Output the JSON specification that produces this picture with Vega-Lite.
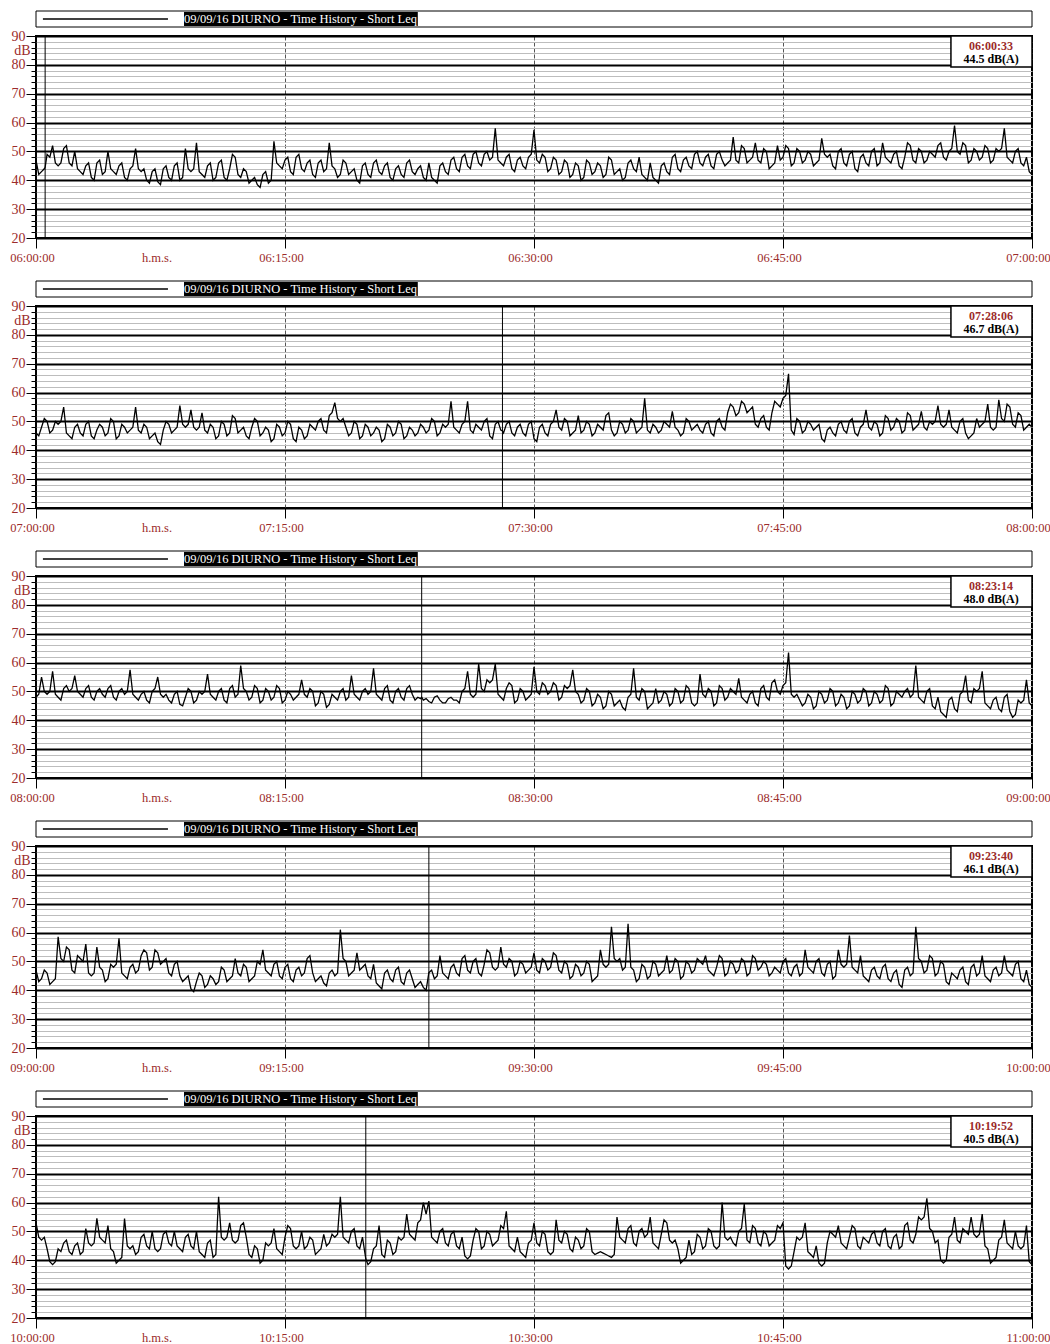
{
"$schema":"https://vega.github.io/schema/vega-lite/v6.json",
"background":"white",
"padding":{"left":8,"top":10,"right":0,"bottom":0},
"spacing":9,
"bounds":"flush",
"config":{"view":{"stroke":"black","strokeWidth":2},"axis":{"labelFont":"Liberation Serif","labelColor":"#9c2b2b","domain":false,"labelOverlap":false,"labelFlush":false}},
"datasets":{
"lg":[{"label":"09/09/16 DIURNO - Time History - Short Leq"}],
"cur":[{"p":1,"s":33,"t":"06:00:33","val":"44.5 dB(A)"},{"p":2,"s":1686,"t":"07:28:06","val":"46.7 dB(A)"},{"p":3,"s":1394,"t":"08:23:14","val":"48.0 dB(A)"},{"p":4,"s":1420,"t":"09:23:40","val":"46.1 dB(A)"},{"p":5,"s":1192,"t":"10:19:52","val":"40.5 dB(A)"}],
"d1":[{"s":0,"v":47},{"s":20,"v":43},{"s":33,"v":44.5},{"s":40,"v":49},{"s":60,"v":52},{"s":80,"v":45},{"s":100,"v":51},{"s":120,"v":46},{"s":140,"v":50},{"s":160,"v":43},{"s":180,"v":45},{"s":200,"v":41},{"s":220,"v":46},{"s":240,"v":42},{"s":260,"v":50},{"s":280,"v":43},{"s":300,"v":45},{"s":320,"v":41},{"s":340,"v":44},{"s":360,"v":51},{"s":380,"v":43},{"s":400,"v":40},{"s":420,"v":43},{"s":440,"v":39.5},{"s":460,"v":44},{"s":480,"v":41},{"s":500,"v":45},{"s":520,"v":40},{"s":540,"v":51},{"s":560,"v":43},{"s":580,"v":53},{"s":600,"v":42},{"s":620,"v":45},{"s":640,"v":40},{"s":660,"v":46},{"s":680,"v":41},{"s":700,"v":44},{"s":720,"v":48},{"s":740,"v":41},{"s":760,"v":43},{"s":780,"v":40},{"s":800,"v":38.5},{"s":820,"v":42},{"s":840,"v":39},{"s":860,"v":53.5},{"s":880,"v":45},{"s":900,"v":47},{"s":920,"v":43},{"s":940,"v":48},{"s":960,"v":44},{"s":980,"v":46},{"s":1000,"v":42},{"s":1020,"v":46},{"s":1040,"v":43},{"s":1060,"v":53},{"s":1080,"v":44},{"s":1100,"v":42},{"s":1120,"v":46},{"s":1140,"v":43},{"s":1160,"v":40},{"s":1180,"v":45},{"s":1200,"v":42},{"s":1220,"v":46},{"s":1240,"v":43},{"s":1260,"v":45},{"s":1280,"v":41},{"s":1300,"v":44},{"s":1320,"v":42},{"s":1340,"v":46},{"s":1360,"v":43},{"s":1380,"v":44},{"s":1400,"v":41},{"s":1420,"v":46},{"s":1440,"v":40},{"s":1460,"v":45},{"s":1480,"v":43},{"s":1500,"v":47},{"s":1520,"v":44},{"s":1540,"v":48},{"s":1560,"v":45},{"s":1580,"v":49},{"s":1600,"v":46},{"s":1620,"v":49},{"s":1640,"v":47},{"s":1660,"v":58},{"s":1680,"v":46},{"s":1700,"v":48},{"s":1720,"v":44},{"s":1740,"v":47},{"s":1760,"v":45},{"s":1780,"v":48},{"s":1800,"v":57.5},{"s":1820,"v":46},{"s":1840,"v":48},{"s":1860,"v":44},{"s":1880,"v":47},{"s":1900,"v":43},{"s":1920,"v":46},{"s":1940,"v":42},{"s":1960,"v":45},{"s":1980,"v":41},{"s":2000,"v":46},{"s":2020,"v":43},{"s":2040,"v":45},{"s":2060,"v":42},{"s":2080,"v":47},{"s":2100,"v":43},{"s":2120,"v":40},{"s":2140,"v":46},{"s":2160,"v":44},{"s":2180,"v":48},{"s":2200,"v":41},{"s":2220,"v":46},{"s":2240,"v":40},{"s":2260,"v":45},{"s":2280,"v":43},{"s":2300,"v":48},{"s":2320,"v":44},{"s":2340,"v":47},{"s":2360,"v":45},{"s":2380,"v":49},{"s":2400,"v":46},{"s":2420,"v":48},{"s":2440,"v":45},{"s":2460,"v":49},{"s":2480,"v":47},{"s":2500,"v":46},{"s":2520,"v":55},{"s":2540,"v":46},{"s":2560,"v":51},{"s":2580,"v":47},{"s":2600,"v":53},{"s":2620,"v":46},{"s":2640,"v":50},{"s":2660,"v":45},{"s":2680,"v":52},{"s":2700,"v":48},{"s":2720,"v":51},{"s":2740,"v":46},{"s":2760,"v":50},{"s":2780,"v":47},{"s":2800,"v":49},{"s":2820,"v":46},{"s":2840,"v":54.5},{"s":2860,"v":48},{"s":2880,"v":45},{"s":2900,"v":50},{"s":2920,"v":46},{"s":2940,"v":49},{"s":2960,"v":44},{"s":2980,"v":48},{"s":3000,"v":46},{"s":3020,"v":50},{"s":3040,"v":45},{"s":3060,"v":53},{"s":3080,"v":47},{"s":3100,"v":49},{"s":3120,"v":45},{"s":3140,"v":48},{"s":3160,"v":52},{"s":3180,"v":46},{"s":3200,"v":50},{"s":3220,"v":47},{"s":3240,"v":49},{"s":3260,"v":52},{"s":3280,"v":48},{"s":3300,"v":50},{"s":3320,"v":59},{"s":3340,"v":49},{"s":3360,"v":52},{"s":3380,"v":47},{"s":3400,"v":50},{"s":3420,"v":48},{"s":3440,"v":51},{"s":3460,"v":47},{"s":3480,"v":50},{"s":3500,"v":58},{"s":3520,"v":47},{"s":3540,"v":50},{"s":3560,"v":46},{"s":3580,"v":48},{"s":3600,"v":42},
{"s":10,"v":42},{"s":30,"v":44},{"s":50,"v":48},{"s":70,"v":46},{"s":90,"v":46},{"s":110,"v":52},{"s":130,"v":45},{"s":150,"v":44},{"s":170,"v":42},{"s":190,"v":46},{"s":210,"v":40},{"s":230,"v":47},{"s":250,"v":43},{"s":270,"v":44},{"s":290,"v":42},{"s":310,"v":46},{"s":330,"v":40},{"s":350,"v":45},{"s":370,"v":44},{"s":390,"v":44},{"s":410,"v":39},{"s":430,"v":44},{"s":450,"v":38.5},{"s":470,"v":45},{"s":490,"v":40},{"s":510,"v":46},{"s":530,"v":41},{"s":550,"v":44},{"s":570,"v":44},{"s":590,"v":43},{"s":610,"v":41},{"s":630,"v":46},{"s":650,"v":41},{"s":670,"v":47},{"s":690,"v":40},{"s":710,"v":49},{"s":730,"v":42},{"s":750,"v":44},{"s":770,"v":39},{"s":790,"v":41},{"s":810,"v":37.5},{"s":830,"v":43},{"s":850,"v":40},{"s":870,"v":46},{"s":890,"v":44},{"s":910,"v":48},{"s":930,"v":42},{"s":950,"v":49},{"s":970,"v":43},{"s":990,"v":47},{"s":1010,"v":41},{"s":1030,"v":47},{"s":1050,"v":44},{"s":1070,"v":45},{"s":1090,"v":41},{"s":1110,"v":47},{"s":1130,"v":42},{"s":1150,"v":44},{"s":1170,"v":39},{"s":1190,"v":46},{"s":1210,"v":41},{"s":1230,"v":47},{"s":1250,"v":42},{"s":1270,"v":46},{"s":1290,"v":40},{"s":1310,"v":45},{"s":1330,"v":41},{"s":1350,"v":47},{"s":1370,"v":42},{"s":1390,"v":45},{"s":1410,"v":40},{"s":1430,"v":41},{"s":1450,"v":39},{"s":1470,"v":46},{"s":1490,"v":42},{"s":1510,"v":48},{"s":1530,"v":43},{"s":1550,"v":49},{"s":1570,"v":44},{"s":1590,"v":50},{"s":1610,"v":45},{"s":1630,"v":50},{"s":1650,"v":48},{"s":1670,"v":47},{"s":1690,"v":45},{"s":1710,"v":49},{"s":1730,"v":43},{"s":1750,"v":48},{"s":1770,"v":44},{"s":1790,"v":49},{"s":1810,"v":47},{"s":1830,"v":49},{"s":1850,"v":43},{"s":1870,"v":48},{"s":1890,"v":42},{"s":1910,"v":47},{"s":1930,"v":41},{"s":1950,"v":46},{"s":1970,"v":40},{"s":1990,"v":47},{"s":2010,"v":42},{"s":2030,"v":46},{"s":2050,"v":41},{"s":2070,"v":48},{"s":2090,"v":42},{"s":2110,"v":44},{"s":2130,"v":41},{"s":2150,"v":47},{"s":2170,"v":43},{"s":2190,"v":42},{"s":2210,"v":40},{"s":2230,"v":41},{"s":2250,"v":39},{"s":2270,"v":46},{"s":2290,"v":42},{"s":2310,"v":49},{"s":2330,"v":43},{"s":2350,"v":48},{"s":2370,"v":44},{"s":2390,"v":50},{"s":2410,"v":45},{"s":2430,"v":49},{"s":2450,"v":44},{"s":2470,"v":50},{"s":2490,"v":45},{"s":2510,"v":47},{"s":2530,"v":47},{"s":2550,"v":52},{"s":2570,"v":46},{"s":2590,"v":48},{"s":2610,"v":47},{"s":2630,"v":51},{"s":2650,"v":44},{"s":2670,"v":46},{"s":2690,"v":47},{"s":2710,"v":52},{"s":2730,"v":45},{"s":2750,"v":51},{"s":2770,"v":46},{"s":2790,"v":50},{"s":2810,"v":45},{"s":2830,"v":47},{"s":2850,"v":49},{"s":2870,"v":49},{"s":2890,"v":44},{"s":2910,"v":51},{"s":2930,"v":45},{"s":2950,"v":50},{"s":2970,"v":43},{"s":2990,"v":49},{"s":3010,"v":45},{"s":3030,"v":51},{"s":3050,"v":46},{"s":3070,"v":48},{"s":3090,"v":46},{"s":3110,"v":50},{"s":3130,"v":44},{"s":3150,"v":53},{"s":3170,"v":47},{"s":3190,"v":51},{"s":3210,"v":46},{"s":3230,"v":50},{"s":3250,"v":48},{"s":3270,"v":53},{"s":3290,"v":47},{"s":3310,"v":51},{"s":3330,"v":50},{"s":3350,"v":53},{"s":3370,"v":46},{"s":3390,"v":51},{"s":3410,"v":47},{"s":3430,"v":52},{"s":3450,"v":46},{"s":3470,"v":51},{"s":3490,"v":51},{"s":3510,"v":48},{"s":3530,"v":46},{"s":3550,"v":51},{"s":3570,"v":45},{"s":3590,"v":43}],
"d2":[{"s":0,"v":46},{"s":20,"v":48},{"s":40,"v":50},{"s":60,"v":47},{"s":80,"v":49},{"s":100,"v":55},{"s":120,"v":45},{"s":140,"v":48},{"s":160,"v":46},{"s":180,"v":49},{"s":200,"v":45},{"s":220,"v":47},{"s":240,"v":48},{"s":260,"v":46},{"s":280,"v":50},{"s":300,"v":45},{"s":320,"v":48},{"s":340,"v":47},{"s":360,"v":55},{"s":380,"v":46},{"s":400,"v":48},{"s":420,"v":45},{"s":440,"v":43},{"s":460,"v":47},{"s":480,"v":49},{"s":500,"v":47},{"s":520,"v":55.5},{"s":540,"v":48},{"s":560,"v":54},{"s":580,"v":47},{"s":600,"v":53},{"s":620,"v":46},{"s":640,"v":48},{"s":660,"v":45},{"s":680,"v":49},{"s":700,"v":46},{"s":720,"v":51},{"s":740,"v":47},{"s":760,"v":45},{"s":780,"v":48},{"s":800,"v":50},{"s":820,"v":46},{"s":840,"v":47},{"s":860,"v":44},{"s":880,"v":48},{"s":900,"v":46},{"s":920,"v":49},{"s":940,"v":43},{"s":960,"v":47},{"s":980,"v":45},{"s":1000,"v":48},{"s":1020,"v":50},{"s":1040,"v":47},{"s":1060,"v":52},{"s":1080,"v":56.5},{"s":1100,"v":50},{"s":1120,"v":48},{"s":1140,"v":46},{"s":1160,"v":49},{"s":1180,"v":45},{"s":1200,"v":48},{"s":1220,"v":46},{"s":1240,"v":47},{"s":1260,"v":44},{"s":1280,"v":48},{"s":1300,"v":46},{"s":1320,"v":49},{"s":1340,"v":45},{"s":1360,"v":47},{"s":1380,"v":46},{"s":1400,"v":48},{"s":1420,"v":47},{"s":1440,"v":50},{"s":1460,"v":46},{"s":1480,"v":48},{"s":1500,"v":57},{"s":1520,"v":47},{"s":1540,"v":49},{"s":1560,"v":57},{"s":1580,"v":46},{"s":1600,"v":48},{"s":1620,"v":50},{"s":1640,"v":45},{"s":1660,"v":49},{"s":1680,"v":47},{"s":1686,"v":46.7},{"s":1700,"v":49},{"s":1720,"v":46},{"s":1740,"v":48},{"s":1760,"v":46},{"s":1780,"v":49},{"s":1800,"v":44},{"s":1820,"v":48},{"s":1840,"v":46},{"s":1860,"v":49},{"s":1880,"v":54},{"s":1900,"v":47},{"s":1920,"v":50},{"s":1940,"v":46},{"s":1960,"v":52},{"s":1980,"v":47},{"s":2000,"v":49},{"s":2020,"v":46},{"s":2040,"v":48},{"s":2060,"v":52},{"s":2080,"v":47},{"s":2100,"v":46},{"s":2120,"v":49},{"s":2140,"v":47},{"s":2160,"v":50},{"s":2180,"v":47},{"s":2200,"v":58},{"s":2220,"v":46},{"s":2240,"v":48},{"s":2260,"v":47},{"s":2280,"v":49},{"s":2300,"v":53.5},{"s":2320,"v":47},{"s":2340,"v":46},{"s":2360,"v":50},{"s":2380,"v":48},{"s":2400,"v":47},{"s":2420,"v":49},{"s":2440,"v":46},{"s":2460,"v":50},{"s":2480,"v":48},{"s":2500,"v":53},{"s":2520,"v":55},{"s":2540,"v":53},{"s":2560,"v":56},{"s":2580,"v":54},{"s":2600,"v":49},{"s":2620,"v":51},{"s":2640,"v":48},{"s":2660,"v":53},{"s":2680,"v":56},{"s":2700,"v":58},{"s":2720,"v":66.5},{"s":2740,"v":45.5},{"s":2760,"v":50},{"s":2780,"v":47},{"s":2800,"v":49},{"s":2820,"v":48},{"s":2840,"v":44},{"s":2860,"v":47},{"s":2880,"v":46},{"s":2900,"v":49},{"s":2920,"v":47},{"s":2940,"v":50},{"s":2960,"v":46},{"s":2980,"v":48},{"s":3000,"v":54},{"s":3020,"v":47},{"s":3040,"v":49},{"s":3060,"v":46},{"s":3080,"v":51},{"s":3100,"v":48},{"s":3120,"v":50},{"s":3140,"v":47},{"s":3160,"v":52},{"s":3180,"v":48},{"s":3200,"v":53.5},{"s":3220,"v":47},{"s":3240,"v":49},{"s":3260,"v":55.5},{"s":3280,"v":48},{"s":3300,"v":54},{"s":3320,"v":47},{"s":3340,"v":50},{"s":3360,"v":46},{"s":3380,"v":45},{"s":3400,"v":51},{"s":3420,"v":49},{"s":3440,"v":56},{"s":3460,"v":47},{"s":3480,"v":57.5},{"s":3500,"v":50},{"s":3520,"v":55},{"s":3540,"v":48},{"s":3560,"v":52},{"s":3580,"v":48},{"s":3600,"v":48},
{"s":10,"v":45},{"s":30,"v":51},{"s":50,"v":46},{"s":70,"v":50},{"s":90,"v":50},{"s":110,"v":46},{"s":130,"v":44},{"s":150,"v":49},{"s":170,"v":45},{"s":190,"v":50},{"s":210,"v":44},{"s":230,"v":49},{"s":250,"v":45},{"s":270,"v":51},{"s":290,"v":44},{"s":310,"v":49},{"s":330,"v":46},{"s":350,"v":48},{"s":370,"v":47},{"s":390,"v":49},{"s":410,"v":44},{"s":430,"v":46},{"s":450,"v":42},{"s":470,"v":50},{"s":490,"v":46},{"s":510,"v":48},{"s":530,"v":49},{"s":550,"v":49},{"s":570,"v":48},{"s":590,"v":48},{"s":610,"v":47},{"s":630,"v":49},{"s":650,"v":44},{"s":670,"v":50},{"s":690,"v":45},{"s":710,"v":52},{"s":730,"v":46},{"s":750,"v":48},{"s":770,"v":44},{"s":790,"v":51},{"s":810,"v":45},{"s":830,"v":48},{"s":850,"v":43},{"s":870,"v":49},{"s":890,"v":45},{"s":910,"v":50},{"s":930,"v":44},{"s":950,"v":48},{"s":970,"v":44},{"s":990,"v":49},{"s":1010,"v":47},{"s":1030,"v":51},{"s":1050,"v":46},{"s":1070,"v":53},{"s":1090,"v":51},{"s":1110,"v":51},{"s":1130,"v":45},{"s":1150,"v":50},{"s":1170,"v":44},{"s":1190,"v":49},{"s":1210,"v":45},{"s":1230,"v":48},{"s":1250,"v":43},{"s":1270,"v":49},{"s":1290,"v":45},{"s":1310,"v":50},{"s":1330,"v":44},{"s":1350,"v":48},{"s":1370,"v":45},{"s":1390,"v":49},{"s":1410,"v":46},{"s":1430,"v":51},{"s":1450,"v":45},{"s":1470,"v":49},{"s":1490,"v":49},{"s":1510,"v":48},{"s":1530,"v":46},{"s":1550,"v":50},{"s":1570,"v":47},{"s":1590,"v":49},{"s":1610,"v":47},{"s":1630,"v":51},{"s":1650,"v":44},{"s":1670,"v":50},{"s":1690,"v":46},{"s":1710,"v":50},{"s":1730,"v":45},{"s":1750,"v":49},{"s":1770,"v":45},{"s":1790,"v":50},{"s":1810,"v":43},{"s":1830,"v":49},{"s":1850,"v":45},{"s":1870,"v":50},{"s":1890,"v":48},{"s":1910,"v":51},{"s":1930,"v":45},{"s":1950,"v":47},{"s":1970,"v":46},{"s":1990,"v":50},{"s":2010,"v":45},{"s":2030,"v":49},{"s":2050,"v":47},{"s":2070,"v":53},{"s":2090,"v":45},{"s":2110,"v":50},{"s":2130,"v":46},{"s":2150,"v":51},{"s":2170,"v":46},{"s":2190,"v":48},{"s":2210,"v":47},{"s":2230,"v":49},{"s":2250,"v":46},{"s":2270,"v":50},{"s":2290,"v":48},{"s":2310,"v":48},{"s":2330,"v":45},{"s":2350,"v":51},{"s":2370,"v":47},{"s":2390,"v":49},{"s":2410,"v":46},{"s":2430,"v":50},{"s":2450,"v":45},{"s":2470,"v":51},{"s":2490,"v":47},{"s":2510,"v":56},{"s":2530,"v":52},{"s":2550,"v":57},{"s":2570,"v":53},{"s":2590,"v":55},{"s":2610,"v":48},{"s":2630,"v":52},{"s":2650,"v":47},{"s":2670,"v":57},{"s":2690,"v":55},{"s":2710,"v":59},{"s":2730,"v":47},{"s":2750,"v":51},{"s":2770,"v":46},{"s":2790,"v":50},{"s":2810,"v":47},{"s":2830,"v":49},{"s":2850,"v":43},{"s":2870,"v":48},{"s":2890,"v":45},{"s":2910,"v":50},{"s":2930,"v":46},{"s":2950,"v":51},{"s":2970,"v":45},{"s":2990,"v":49},{"s":3010,"v":48},{"s":3030,"v":50},{"s":3050,"v":45},{"s":3070,"v":52},{"s":3090,"v":47},{"s":3110,"v":51},{"s":3130,"v":46},{"s":3150,"v":53},{"s":3170,"v":47},{"s":3190,"v":49},{"s":3210,"v":48},{"s":3230,"v":50},{"s":3250,"v":50},{"s":3270,"v":49},{"s":3290,"v":49},{"s":3310,"v":48},{"s":3330,"v":46},{"s":3350,"v":51},{"s":3370,"v":44},{"s":3390,"v":46},{"s":3410,"v":48},{"s":3430,"v":50},{"s":3450,"v":48},{"s":3470,"v":48},{"s":3490,"v":51},{"s":3510,"v":56},{"s":3530,"v":49},{"s":3550,"v":53},{"s":3570,"v":47},{"s":3590,"v":49}],
"d3":[{"s":0,"v":48},{"s":20,"v":55},{"s":40,"v":49},{"s":60,"v":57},{"s":80,"v":48},{"s":100,"v":51},{"s":120,"v":50},{"s":140,"v":55.5},{"s":160,"v":49},{"s":180,"v":51},{"s":200,"v":48},{"s":220,"v":50},{"s":240,"v":49},{"s":260,"v":51},{"s":280,"v":48},{"s":300,"v":50},{"s":320,"v":49},{"s":340,"v":57.5},{"s":360,"v":48},{"s":380,"v":49},{"s":400,"v":47},{"s":420,"v":50},{"s":440,"v":55},{"s":460,"v":48},{"s":480,"v":47},{"s":500,"v":49},{"s":520,"v":45.5},{"s":540,"v":48},{"s":560,"v":50},{"s":580,"v":47},{"s":600,"v":49},{"s":620,"v":56},{"s":640,"v":48},{"s":660,"v":50},{"s":680,"v":47},{"s":700,"v":51},{"s":720,"v":48},{"s":740,"v":59},{"s":760,"v":50},{"s":780,"v":48},{"s":800,"v":51},{"s":820,"v":47},{"s":840,"v":50},{"s":860,"v":48},{"s":880,"v":51},{"s":900,"v":47},{"s":920,"v":49},{"s":940,"v":48},{"s":960,"v":54},{"s":980,"v":48},{"s":1000,"v":50},{"s":1020,"v":46},{"s":1040,"v":49},{"s":1060,"v":45.5},{"s":1080,"v":48},{"s":1100,"v":50},{"s":1120,"v":47},{"s":1140,"v":55.5},{"s":1160,"v":48},{"s":1180,"v":50},{"s":1200,"v":49},{"s":1220,"v":58},{"s":1240,"v":48},{"s":1260,"v":51},{"s":1280,"v":47},{"s":1300,"v":50},{"s":1320,"v":48},{"s":1340,"v":51},{"s":1360,"v":49},{"s":1380,"v":48},{"s":1394,"v":48},{"s":1400,"v":47},{"s":1420,"v":46.5},{"s":1440,"v":48},{"s":1460,"v":47},{"s":1480,"v":46},{"s":1500,"v":48},{"s":1520,"v":47},{"s":1540,"v":50},{"s":1560,"v":57},{"s":1580,"v":48},{"s":1600,"v":59.5},{"s":1620,"v":50},{"s":1640,"v":53},{"s":1660,"v":59.5},{"s":1680,"v":48},{"s":1700,"v":51},{"s":1720,"v":52},{"s":1740,"v":47},{"s":1760,"v":50},{"s":1780,"v":48},{"s":1800,"v":58.5},{"s":1820,"v":49},{"s":1840,"v":52},{"s":1860,"v":50},{"s":1880,"v":52},{"s":1900,"v":48},{"s":1920,"v":51},{"s":1940,"v":57.5},{"s":1960,"v":49},{"s":1980,"v":47},{"s":2000,"v":50},{"s":2020,"v":46},{"s":2040,"v":48},{"s":2060,"v":45},{"s":2080,"v":49},{"s":2100,"v":46},{"s":2120,"v":44.5},{"s":2140,"v":48},{"s":2160,"v":58},{"s":2180,"v":47},{"s":2200,"v":50},{"s":2220,"v":45},{"s":2240,"v":51},{"s":2260,"v":47},{"s":2280,"v":49},{"s":2300,"v":46},{"s":2320,"v":50},{"s":2340,"v":47},{"s":2360,"v":51},{"s":2380,"v":45},{"s":2400,"v":56},{"s":2420,"v":48},{"s":2440,"v":50},{"s":2460,"v":46},{"s":2480,"v":51},{"s":2500,"v":48},{"s":2520,"v":50},{"s":2540,"v":54.5},{"s":2560,"v":47},{"s":2580,"v":49},{"s":2600,"v":46},{"s":2620,"v":51},{"s":2640,"v":48},{"s":2660,"v":53},{"s":2680,"v":50},{"s":2700,"v":52},{"s":2720,"v":63.5},{"s":2740,"v":48},{"s":2760,"v":47},{"s":2780,"v":46},{"s":2800,"v":48},{"s":2820,"v":45},{"s":2840,"v":49},{"s":2860,"v":47},{"s":2880,"v":50},{"s":2900,"v":46},{"s":2920,"v":48},{"s":2940,"v":45},{"s":2960,"v":49},{"s":2980,"v":47},{"s":3000,"v":50},{"s":3020,"v":46},{"s":3040,"v":49},{"s":3060,"v":47},{"s":3080,"v":51},{"s":3100,"v":46},{"s":3120,"v":49},{"s":3140,"v":50},{"s":3160,"v":48},{"s":3180,"v":59},{"s":3200,"v":47},{"s":3220,"v":50},{"s":3240,"v":45},{"s":3260,"v":48},{"s":3280,"v":42},{"s":3300,"v":47},{"s":3320,"v":44},{"s":3340,"v":49},{"s":3360,"v":55.5},{"s":3380,"v":46},{"s":3400,"v":50},{"s":3420,"v":57},{"s":3440,"v":45},{"s":3460,"v":47},{"s":3480,"v":44},{"s":3500,"v":48},{"s":3520,"v":43},{"s":3540,"v":42},{"s":3560,"v":46},{"s":3580,"v":54},{"s":3600,"v":45},
{"s":10,"v":49},{"s":30,"v":50},{"s":50,"v":50},{"s":70,"v":49},{"s":90,"v":47},{"s":110,"v":52},{"s":130,"v":51},{"s":150,"v":50},{"s":170,"v":48},{"s":190,"v":52},{"s":210,"v":47},{"s":230,"v":51},{"s":250,"v":48},{"s":270,"v":52},{"s":290,"v":47},{"s":310,"v":51},{"s":330,"v":50},{"s":350,"v":49},{"s":370,"v":47},{"s":390,"v":50},{"s":410,"v":46},{"s":430,"v":51},{"s":450,"v":49},{"s":470,"v":49},{"s":490,"v":46},{"s":510,"v":50},{"s":530,"v":45},{"s":550,"v":51},{"s":570,"v":46},{"s":590,"v":50},{"s":610,"v":50},{"s":630,"v":49},{"s":650,"v":47},{"s":670,"v":51},{"s":690,"v":46},{"s":710,"v":52},{"s":730,"v":49},{"s":750,"v":51},{"s":770,"v":47},{"s":790,"v":52},{"s":810,"v":46},{"s":830,"v":51},{"s":850,"v":47},{"s":870,"v":52},{"s":890,"v":46},{"s":910,"v":50},{"s":930,"v":47},{"s":950,"v":49},{"s":970,"v":49},{"s":990,"v":51},{"s":1010,"v":45},{"s":1030,"v":50},{"s":1050,"v":44.5},{"s":1070,"v":49},{"s":1090,"v":47},{"s":1110,"v":51},{"s":1130,"v":48},{"s":1150,"v":49},{"s":1170,"v":47},{"s":1190,"v":51},{"s":1210,"v":50},{"s":1230,"v":49},{"s":1250,"v":47},{"s":1270,"v":52},{"s":1290,"v":46},{"s":1310,"v":51},{"s":1330,"v":47},{"s":1350,"v":52},{"s":1370,"v":47},{"s":1390,"v":47.5},{"s":1410,"v":47.5},{"s":1430,"v":46},{"s":1450,"v":48.5},{"s":1470,"v":46},{"s":1490,"v":47.5},{"s":1510,"v":47},{"s":1530,"v":46},{"s":1550,"v":51},{"s":1570,"v":49},{"s":1590,"v":49},{"s":1610,"v":51},{"s":1630,"v":54},{"s":1650,"v":54},{"s":1670,"v":49},{"s":1690,"v":47},{"s":1710,"v":53},{"s":1730,"v":46},{"s":1750,"v":51},{"s":1770,"v":47},{"s":1790,"v":49},{"s":1810,"v":50},{"s":1830,"v":53},{"s":1850,"v":49},{"s":1870,"v":53},{"s":1890,"v":47},{"s":1910,"v":52},{"s":1930,"v":52},{"s":1950,"v":50},{"s":1970,"v":46},{"s":1990,"v":51},{"s":2010,"v":45},{"s":2030,"v":49},{"s":2050,"v":44},{"s":2070,"v":50},{"s":2090,"v":45},{"s":2110,"v":47},{"s":2130,"v":43.5},{"s":2150,"v":49},{"s":2170,"v":48},{"s":2190,"v":51},{"s":2210,"v":44},{"s":2230,"v":46},{"s":2250,"v":46},{"s":2270,"v":50},{"s":2290,"v":45},{"s":2310,"v":51},{"s":2330,"v":46},{"s":2350,"v":52},{"s":2370,"v":46},{"s":2390,"v":46},{"s":2410,"v":49},{"s":2430,"v":51},{"s":2450,"v":45},{"s":2470,"v":52},{"s":2490,"v":47},{"s":2510,"v":51},{"s":2530,"v":49},{"s":2550,"v":48},{"s":2570,"v":46},{"s":2590,"v":50},{"s":2610,"v":45},{"s":2630,"v":52},{"s":2650,"v":47},{"s":2670,"v":54},{"s":2690,"v":49},{"s":2710,"v":53},{"s":2730,"v":49},{"s":2750,"v":49},{"s":2770,"v":45},{"s":2790,"v":49},{"s":2810,"v":44},{"s":2830,"v":50},{"s":2850,"v":46},{"s":2870,"v":51},{"s":2890,"v":45},{"s":2910,"v":49},{"s":2930,"v":44},{"s":2950,"v":50},{"s":2970,"v":46},{"s":2990,"v":51},{"s":3010,"v":45},{"s":3030,"v":50},{"s":3050,"v":46},{"s":3070,"v":52},{"s":3090,"v":45},{"s":3110,"v":50},{"s":3130,"v":48},{"s":3150,"v":51},{"s":3170,"v":49},{"s":3190,"v":48},{"s":3210,"v":46},{"s":3230,"v":51},{"s":3250,"v":44},{"s":3270,"v":43},{"s":3290,"v":41},{"s":3310,"v":48},{"s":3330,"v":43},{"s":3350,"v":50},{"s":3370,"v":47},{"s":3390,"v":51},{"s":3410,"v":51},{"s":3430,"v":46},{"s":3450,"v":44},{"s":3470,"v":48},{"s":3490,"v":43},{"s":3510,"v":49},{"s":3530,"v":41},{"s":3550,"v":47},{"s":3570,"v":47},{"s":3590,"v":46}],
"d4":[{"s":0,"v":47},{"s":20,"v":44},{"s":40,"v":46},{"s":60,"v":43},{"s":80,"v":58.5},{"s":100,"v":50},{"s":120,"v":54},{"s":140,"v":46},{"s":160,"v":51},{"s":180,"v":56},{"s":200,"v":45},{"s":220,"v":55},{"s":240,"v":47},{"s":260,"v":44},{"s":280,"v":48},{"s":300,"v":58},{"s":320,"v":45},{"s":340,"v":48},{"s":360,"v":46},{"s":380,"v":52},{"s":400,"v":53},{"s":420,"v":48},{"s":440,"v":53},{"s":460,"v":50},{"s":480,"v":46},{"s":500,"v":49},{"s":520,"v":45},{"s":540,"v":44},{"s":560,"v":40.5},{"s":580,"v":43},{"s":600,"v":45},{"s":620,"v":42},{"s":640,"v":44},{"s":660,"v":43},{"s":680,"v":47},{"s":700,"v":44},{"s":720,"v":51},{"s":740,"v":45},{"s":760,"v":48},{"s":780,"v":44},{"s":800,"v":50},{"s":820,"v":54},{"s":840,"v":46},{"s":860,"v":49},{"s":880,"v":45},{"s":900,"v":48},{"s":920,"v":44},{"s":940,"v":47},{"s":960,"v":45},{"s":980,"v":51},{"s":1000,"v":46},{"s":1020,"v":44},{"s":1040,"v":42.5},{"s":1060,"v":46},{"s":1080,"v":45},{"s":1100,"v":61},{"s":1120,"v":50},{"s":1140,"v":46},{"s":1160,"v":53},{"s":1180,"v":48},{"s":1200,"v":45},{"s":1220,"v":49},{"s":1240,"v":41.5},{"s":1260,"v":46},{"s":1280,"v":44},{"s":1300,"v":47},{"s":1320,"v":43},{"s":1340,"v":46},{"s":1360,"v":44},{"s":1380,"v":42},{"s":1400,"v":41},{"s":1420,"v":46.1},{"s":1440,"v":44},{"s":1460,"v":52},{"s":1480,"v":45},{"s":1500,"v":48},{"s":1520,"v":46},{"s":1540,"v":51},{"s":1560,"v":47},{"s":1580,"v":50},{"s":1600,"v":46},{"s":1620,"v":49},{"s":1640,"v":53},{"s":1660,"v":47},{"s":1680,"v":55},{"s":1700,"v":48},{"s":1720,"v":50},{"s":1740,"v":46},{"s":1760,"v":49},{"s":1780,"v":47},{"s":1800,"v":53},{"s":1820,"v":46},{"s":1840,"v":50},{"s":1860,"v":48},{"s":1880,"v":52},{"s":1900,"v":46},{"s":1920,"v":49},{"s":1940,"v":45},{"s":1960,"v":48},{"s":1980,"v":46},{"s":2000,"v":49},{"s":2020,"v":44},{"s":2040,"v":54},{"s":2060,"v":48},{"s":2080,"v":62},{"s":2100,"v":50},{"s":2120,"v":47},{"s":2140,"v":63},{"s":2160,"v":47},{"s":2180,"v":44},{"s":2200,"v":48},{"s":2220,"v":45},{"s":2240,"v":49},{"s":2260,"v":46},{"s":2280,"v":52},{"s":2300,"v":47},{"s":2320,"v":50},{"s":2340,"v":45},{"s":2360,"v":49},{"s":2380,"v":47},{"s":2400,"v":50},{"s":2420,"v":52},{"s":2440,"v":46},{"s":2460,"v":48},{"s":2480,"v":51},{"s":2500,"v":46},{"s":2520,"v":49},{"s":2540,"v":47},{"s":2560,"v":50},{"s":2580,"v":46},{"s":2600,"v":51},{"s":2620,"v":48},{"s":2640,"v":49},{"s":2660,"v":46},{"s":2680,"v":47},{"s":2700,"v":50},{"s":2720,"v":46},{"s":2740,"v":48},{"s":2760,"v":45},{"s":2780,"v":54},{"s":2800,"v":47},{"s":2820,"v":50},{"s":2840,"v":46},{"s":2860,"v":49},{"s":2880,"v":44},{"s":2900,"v":54},{"s":2920,"v":48},{"s":2940,"v":59},{"s":2960,"v":47},{"s":2980,"v":52},{"s":3000,"v":44},{"s":3020,"v":47},{"s":3040,"v":45},{"s":3060,"v":48},{"s":3080,"v":44},{"s":3100,"v":46},{"s":3120,"v":42},{"s":3140,"v":47},{"s":3160,"v":45},{"s":3180,"v":62},{"s":3200,"v":50},{"s":3220,"v":47},{"s":3240,"v":51},{"s":3260,"v":46},{"s":3280,"v":49},{"s":3300,"v":42},{"s":3320,"v":45},{"s":3340,"v":47},{"s":3360,"v":43},{"s":3380,"v":48},{"s":3400,"v":45},{"s":3420,"v":52},{"s":3440,"v":44},{"s":3460,"v":47},{"s":3480,"v":45},{"s":3500,"v":52},{"s":3520,"v":46},{"s":3540,"v":49},{"s":3560,"v":44},{"s":3580,"v":47},{"s":3600,"v":41},
{"s":10,"v":43},{"s":30,"v":47},{"s":50,"v":42},{"s":70,"v":44},{"s":90,"v":51},{"s":110,"v":55},{"s":130,"v":47},{"s":150,"v":52},{"s":170,"v":50},{"s":190,"v":46},{"s":210,"v":46},{"s":230,"v":48},{"s":250,"v":43},{"s":270,"v":49},{"s":290,"v":49},{"s":310,"v":46},{"s":330,"v":44},{"s":350,"v":49},{"s":370,"v":47},{"s":390,"v":54},{"s":410,"v":47},{"s":430,"v":54},{"s":450,"v":49},{"s":470,"v":51},{"s":490,"v":45},{"s":510,"v":50},{"s":530,"v":43},{"s":550,"v":45},{"s":570,"v":39.5},{"s":590,"v":46},{"s":610,"v":41},{"s":630,"v":45},{"s":650,"v":42},{"s":670,"v":48},{"s":690,"v":43},{"s":710,"v":45},{"s":730,"v":46},{"s":750,"v":49},{"s":770,"v":43},{"s":790,"v":45},{"s":810,"v":49},{"s":830,"v":47},{"s":850,"v":45},{"s":870,"v":50},{"s":890,"v":44},{"s":910,"v":49},{"s":930,"v":43},{"s":950,"v":48},{"s":970,"v":46},{"s":990,"v":52},{"s":1010,"v":43},{"s":1030,"v":45},{"s":1050,"v":41.5},{"s":1070,"v":47},{"s":1090,"v":46},{"s":1110,"v":51},{"s":1130,"v":45},{"s":1150,"v":47},{"s":1170,"v":47},{"s":1190,"v":49},{"s":1210,"v":44},{"s":1230,"v":42.5},{"s":1250,"v":40.5},{"s":1270,"v":47},{"s":1290,"v":43},{"s":1310,"v":48},{"s":1330,"v":42},{"s":1350,"v":47},{"s":1370,"v":41},{"s":1390,"v":43},{"s":1410,"v":40},{"s":1430,"v":47},{"s":1450,"v":45},{"s":1470,"v":46},{"s":1490,"v":44},{"s":1510,"v":49},{"s":1530,"v":45},{"s":1550,"v":52},{"s":1570,"v":46},{"s":1590,"v":51},{"s":1610,"v":45},{"s":1630,"v":54},{"s":1650,"v":48},{"s":1670,"v":48},{"s":1690,"v":49},{"s":1710,"v":51},{"s":1730,"v":45},{"s":1750,"v":50},{"s":1770,"v":46},{"s":1790,"v":48},{"s":1810,"v":47},{"s":1830,"v":51},{"s":1850,"v":47},{"s":1870,"v":53},{"s":1890,"v":47},{"s":1910,"v":50},{"s":1930,"v":44},{"s":1950,"v":49},{"s":1970,"v":45},{"s":1990,"v":50},{"s":2010,"v":43},{"s":2030,"v":45},{"s":2050,"v":49},{"s":2070,"v":49},{"s":2090,"v":51},{"s":2110,"v":51},{"s":2130,"v":48},{"s":2150,"v":48},{"s":2170,"v":43},{"s":2190,"v":49},{"s":2210,"v":44},{"s":2230,"v":50},{"s":2250,"v":45},{"s":2270,"v":47},{"s":2290,"v":46},{"s":2310,"v":51},{"s":2330,"v":44},{"s":2350,"v":50},{"s":2370,"v":46},{"s":2390,"v":51},{"s":2410,"v":49},{"s":2430,"v":47},{"s":2450,"v":45},{"s":2470,"v":52},{"s":2490,"v":45},{"s":2510,"v":50},{"s":2530,"v":46},{"s":2550,"v":51},{"s":2570,"v":45},{"s":2590,"v":52},{"s":2610,"v":47},{"s":2630,"v":50},{"s":2650,"v":45},{"s":2670,"v":48},{"s":2690,"v":46},{"s":2710,"v":51},{"s":2730,"v":45},{"s":2750,"v":49},{"s":2770,"v":46},{"s":2790,"v":48},{"s":2810,"v":46},{"s":2830,"v":51},{"s":2850,"v":45},{"s":2870,"v":50},{"s":2890,"v":45},{"s":2910,"v":49},{"s":2930,"v":49},{"s":2950,"v":48},{"s":2970,"v":46},{"s":2990,"v":45},{"s":3010,"v":43},{"s":3030,"v":48},{"s":3050,"v":44},{"s":3070,"v":49},{"s":3090,"v":43},{"s":3110,"v":47},{"s":3130,"v":41},{"s":3150,"v":48},{"s":3170,"v":46},{"s":3190,"v":51},{"s":3210,"v":46},{"s":3230,"v":52},{"s":3250,"v":45},{"s":3270,"v":50},{"s":3290,"v":43},{"s":3310,"v":46},{"s":3330,"v":44},{"s":3350,"v":48},{"s":3370,"v":42},{"s":3390,"v":49},{"s":3410,"v":46},{"s":3430,"v":45},{"s":3450,"v":43},{"s":3470,"v":48},{"s":3490,"v":46},{"s":3510,"v":47},{"s":3530,"v":45},{"s":3550,"v":50},{"s":3570,"v":43},{"s":3590,"v":42}],
"d5":[{"s":0,"v":53},{"s":20,"v":47},{"s":40,"v":44},{"s":60,"v":38.5},{"s":80,"v":44},{"s":100,"v":46},{"s":120,"v":43},{"s":140,"v":45},{"s":160,"v":42},{"s":180,"v":51},{"s":200,"v":45},{"s":220,"v":54.5},{"s":240,"v":47},{"s":260,"v":52},{"s":280,"v":43},{"s":300,"v":40},{"s":320,"v":54.5},{"s":340,"v":44},{"s":360,"v":42},{"s":380,"v":48},{"s":400,"v":45},{"s":420,"v":50},{"s":440,"v":43},{"s":460,"v":49},{"s":480,"v":46},{"s":500,"v":50},{"s":520,"v":44},{"s":540,"v":48},{"s":560,"v":45},{"s":580,"v":50},{"s":600,"v":42},{"s":620,"v":46},{"s":640,"v":41},{"s":660,"v":62},{"s":680,"v":47},{"s":700,"v":53},{"s":720,"v":46},{"s":740,"v":52},{"s":760,"v":48},{"s":780,"v":41},{"s":800,"v":44},{"s":820,"v":40},{"s":840,"v":45},{"s":860,"v":51},{"s":880,"v":43},{"s":900,"v":48},{"s":920,"v":51},{"s":940,"v":44},{"s":960,"v":50},{"s":980,"v":45},{"s":1000,"v":47},{"s":1020,"v":43},{"s":1040,"v":49},{"s":1060,"v":46},{"s":1080,"v":48},{"s":1100,"v":62},{"s":1120,"v":47},{"s":1140,"v":50},{"s":1160,"v":45},{"s":1180,"v":48},{"s":1192,"v":40.5},{"s":1200,"v":38.5},{"s":1220,"v":44},{"s":1240,"v":52},{"s":1260,"v":41},{"s":1280,"v":46},{"s":1300,"v":43},{"s":1320,"v":47},{"s":1340,"v":56},{"s":1360,"v":48},{"s":1380,"v":53},{"s":1400,"v":60},{"s":1420,"v":60.5},{"s":1440,"v":47},{"s":1460,"v":50},{"s":1480,"v":46},{"s":1500,"v":49},{"s":1520,"v":45},{"s":1540,"v":48},{"s":1560,"v":40.5},{"s":1580,"v":47},{"s":1600,"v":50},{"s":1620,"v":45},{"s":1640,"v":49},{"s":1660,"v":46},{"s":1680,"v":52},{"s":1700,"v":57},{"s":1720,"v":44},{"s":1740,"v":48},{"s":1760,"v":42},{"s":1780,"v":46},{"s":1800,"v":53},{"s":1820,"v":45},{"s":1840,"v":49},{"s":1860,"v":42},{"s":1880,"v":54},{"s":1900,"v":46},{"s":1920,"v":49},{"s":1940,"v":43},{"s":1960,"v":47},{"s":1980,"v":45},{"s":2000,"v":50},{"s":2020,"v":42},{"s":2040,"v":43},{"s":2060,"v":42},{"s":2080,"v":41},{"s":2100,"v":55},{"s":2120,"v":47},{"s":2140,"v":51},{"s":2160,"v":46},{"s":2180,"v":50},{"s":2200,"v":48},{"s":2220,"v":55},{"s":2240,"v":45},{"s":2260,"v":49},{"s":2280,"v":53},{"s":2300,"v":46},{"s":2320,"v":44},{"s":2340,"v":40},{"s":2360,"v":47},{"s":2380,"v":43},{"s":2400,"v":48},{"s":2420,"v":45},{"s":2440,"v":50},{"s":2460,"v":44},{"s":2480,"v":60},{"s":2500,"v":47},{"s":2520,"v":46},{"s":2540,"v":50},{"s":2560,"v":59.5},{"s":2580,"v":46},{"s":2600,"v":51},{"s":2620,"v":45},{"s":2640,"v":49},{"s":2660,"v":46},{"s":2680,"v":52},{"s":2700,"v":53},{"s":2720,"v":37},{"s":2740,"v":43},{"s":2760,"v":47},{"s":2780,"v":53},{"s":2800,"v":42},{"s":2820,"v":45},{"s":2840,"v":38},{"s":2860,"v":46},{"s":2880,"v":49},{"s":2900,"v":52},{"s":2920,"v":45},{"s":2940,"v":48},{"s":2960,"v":51},{"s":2980,"v":44},{"s":3000,"v":47},{"s":3020,"v":49},{"s":3040,"v":46},{"s":3060,"v":50},{"s":3080,"v":45},{"s":3100,"v":48},{"s":3120,"v":44},{"s":3140,"v":52},{"s":3160,"v":47},{"s":3180,"v":49},{"s":3200,"v":54},{"s":3220,"v":61.5},{"s":3240,"v":50},{"s":3260,"v":47},{"s":3280,"v":39},{"s":3300,"v":48},{"s":3320,"v":55},{"s":3340,"v":46},{"s":3360,"v":50},{"s":3380,"v":55},{"s":3400,"v":48},{"s":3420,"v":56},{"s":3440,"v":44},{"s":3460,"v":40},{"s":3480,"v":47},{"s":3500,"v":54},{"s":3520,"v":45},{"s":3540,"v":50},{"s":3560,"v":44},{"s":3580,"v":52},{"s":3600,"v":38.5},
{"s":10,"v":48},{"s":30,"v":48},{"s":50,"v":39.5},{"s":70,"v":39.5},{"s":90,"v":43},{"s":110,"v":47},{"s":130,"v":42},{"s":150,"v":46},{"s":170,"v":43},{"s":190,"v":46},{"s":210,"v":46},{"s":230,"v":48},{"s":250,"v":46},{"s":270,"v":44},{"s":290,"v":39},{"s":310,"v":41},{"s":330,"v":45},{"s":350,"v":45},{"s":370,"v":43},{"s":390,"v":49},{"s":410,"v":44},{"s":430,"v":44},{"s":450,"v":44},{"s":470,"v":50},{"s":490,"v":45},{"s":510,"v":45},{"s":530,"v":43},{"s":550,"v":49},{"s":570,"v":44},{"s":590,"v":43},{"s":610,"v":41},{"s":630,"v":47},{"s":650,"v":42},{"s":670,"v":48},{"s":690,"v":48},{"s":710,"v":47},{"s":730,"v":47},{"s":750,"v":53},{"s":770,"v":42},{"s":790,"v":45},{"s":810,"v":39},{"s":830,"v":46},{"s":850,"v":46},{"s":870,"v":44},{"s":890,"v":42},{"s":910,"v":52},{"s":930,"v":45},{"s":950,"v":45},{"s":970,"v":44},{"s":990,"v":48},{"s":1010,"v":42},{"s":1030,"v":44},{"s":1050,"v":45},{"s":1070,"v":49},{"s":1090,"v":49},{"s":1110,"v":48},{"s":1130,"v":46},{"s":1150,"v":51},{"s":1170,"v":44},{"s":1210,"v":39.5},{"s":1230,"v":45},{"s":1250,"v":42},{"s":1270,"v":47},{"s":1290,"v":42},{"s":1310,"v":48},{"s":1330,"v":48},{"s":1350,"v":49},{"s":1370,"v":47},{"s":1390,"v":54},{"s":1410,"v":56},{"s":1430,"v":48},{"s":1450,"v":46},{"s":1470,"v":51},{"s":1490,"v":45},{"s":1510,"v":50},{"s":1530,"v":44},{"s":1550,"v":41.5},{"s":1570,"v":41.5},{"s":1590,"v":51},{"s":1610,"v":44},{"s":1630,"v":50},{"s":1650,"v":45},{"s":1670,"v":47},{"s":1690,"v":51},{"s":1710,"v":45},{"s":1730,"v":43},{"s":1750,"v":43},{"s":1770,"v":41},{"s":1790,"v":47},{"s":1810,"v":46},{"s":1830,"v":50},{"s":1850,"v":43},{"s":1870,"v":43},{"s":1890,"v":47},{"s":1910,"v":50},{"s":1930,"v":44},{"s":1950,"v":48},{"s":1970,"v":44},{"s":1990,"v":51},{"s":2010,"v":43},{"s":2030,"v":42.5},{"s":2050,"v":42.5},{"s":2070,"v":41.5},{"s":2090,"v":42},{"s":2110,"v":48},{"s":2130,"v":46},{"s":2150,"v":52},{"s":2170,"v":45},{"s":2190,"v":51},{"s":2210,"v":49},{"s":2230,"v":46},{"s":2250,"v":44},{"s":2270,"v":54},{"s":2290,"v":47},{"s":2310,"v":47},{"s":2330,"v":39},{"s":2350,"v":41},{"s":2370,"v":42},{"s":2390,"v":49},{"s":2410,"v":44},{"s":2430,"v":51},{"s":2450,"v":45},{"s":2470,"v":45},{"s":2490,"v":48},{"s":2510,"v":48},{"s":2530,"v":45},{"s":2550,"v":51},{"s":2570,"v":47},{"s":2590,"v":52},{"s":2610,"v":46},{"s":2630,"v":50},{"s":2650,"v":45},{"s":2670,"v":47},{"s":2690,"v":51},{"s":2710,"v":38},{"s":2730,"v":38},{"s":2750,"v":48},{"s":2770,"v":48},{"s":2790,"v":43},{"s":2810,"v":41},{"s":2830,"v":39},{"s":2850,"v":39},{"s":2870,"v":50},{"s":2890,"v":48},{"s":2910,"v":46},{"s":2930,"v":44},{"s":2950,"v":52},{"s":2970,"v":45},{"s":2990,"v":48},{"s":3010,"v":46},{"s":3030,"v":50},{"s":3050,"v":45},{"s":3070,"v":51},{"s":3090,"v":44},{"s":3110,"v":49},{"s":3130,"v":45},{"s":3150,"v":53},{"s":3170,"v":46},{"s":3190,"v":55},{"s":3210,"v":55},{"s":3230,"v":51},{"s":3250,"v":46},{"s":3270,"v":40},{"s":3290,"v":40},{"s":3310,"v":49},{"s":3330,"v":47},{"s":3350,"v":51},{"s":3370,"v":49},{"s":3390,"v":49},{"s":3410,"v":49},{"s":3430,"v":45},{"s":3450,"v":39},{"s":3470,"v":41},{"s":3490,"v":48},{"s":3510,"v":46},{"s":3530,"v":44},{"s":3550,"v":45},{"s":3570,"v":45},{"s":3590,"v":39.5}]
},
"vconcat":[
 {"width":996,"height":16,"view":{"stroke":null},"data":{"name":"lg"},"layer":[
  {"mark":{"type":"rect","fill":null,"stroke":"black","strokeWidth":1},"encoding":{"x":{"datum":0,"type":"quantitative","scale":{"domain":[0,3600],"nice":false},"axis":null},"x2":{"datum":3600},"y":{"datum":0,"type":"quantitative","scale":{"domain":[0,16],"nice":false},"axis":null},"y2":{"datum":16}}},
  {"mark":{"type":"rule","stroke":"black","strokeWidth":1.5},"encoding":{"x":{"datum":25,"type":"quantitative"},"x2":{"datum":477},"y":{"datum":8,"type":"quantitative"}}},
  {"mark":{"type":"rect","fill":"black"},"encoding":{"x":{"datum":535,"type":"quantitative"},"x2":{"datum":1380},"y":{"datum":1,"type":"quantitative"},"y2":{"datum":15}}},
  {"mark":{"type":"text","color":"white","align":"left","baseline":"middle","font":"Liberation Serif","fontSize":12.5},"encoding":{"x":{"datum":535,"type":"quantitative"},"y":{"datum":8,"type":"quantitative"},"text":{"field":"label"}}}]},
 {"width":996,"height":202,"layer":[
  {"data":{"name":"d1"},"mark":{"type":"line","color":"black","strokeWidth":1.3,"clip":true},"encoding":{
   "x":{"field":"s","type":"quantitative","scale":{"domain":[0,3600],"nice":false,"zero":false},"axis":{"title":null,"tickCount":100,"values":[0,450,900,1800,2700,3600],"labelExpr":"datum.value==450?'h.m.s.':datum.value==0?'06:00:00':datum.value==900?'06:15:00':datum.value==1800?'06:30:00':datum.value==2700?'06:45:00':'07:00:00'","labelFontSize":12.5,"labelPadding":3,"labelOffset":-4,"tickSize":10,"tickColor":"black","tickOpacity":{"condition":{"test":"datum.value==450","value":0},"value":1},"gridColor":"#555555","gridDash":[4,2],"gridWidth":1,"gridOpacity":{"condition":{"test":"datum.value==900||datum.value==1800||datum.value==2700","value":1},"value":0}}},
   "y":{"field":"v","type":"quantitative","scale":{"domain":[20,90],"nice":false,"zero":false},"axis":{"title":null,"tickCount":100,"values":[20,22,24,26,28,30,32,34,36,38,40,42,44,46,48,50,52,54,56,58,60,62,64,66,68,70,72,74,76,78,80,82,84,85,86,88,90],"labelExpr":"datum.value==85?'dB':(datum.value%10==0?(''+datum.value):'')","labelFontSize":14,"labelPadding":1,"minExtent":26,"maxExtent":26,"tickColor":"black","tickSize":{"condition":{"test":"datum.value%10==0","value":10},"value":5},"tickOpacity":{"condition":{"test":"datum.value==85","value":0},"value":1},"gridColor":{"condition":{"test":"datum.value%10==0","value":"black"},"value":"#bdbdbd"},"gridWidth":{"condition":{"test":"datum.value%10==0","value":2},"value":1.2},"gridOpacity":{"condition":{"test":"datum.value==85","value":0},"value":1}}}}},
  {"data":{"name":"cur"},"transform":[{"filter":"datum.p==1"}],"mark":{"type":"rule","color":"black","strokeWidth":1},"encoding":{"x":{"field":"s","type":"quantitative","title":null}}},
  {"data":{"name":"cur"},"transform":[{"filter":"datum.p==1"}],"mark":{"type":"rect","fill":"white","stroke":"black","strokeWidth":1.5},"encoding":{"x":{"datum":3307,"type":"quantitative"},"x2":{"datum":3600},"y":{"datum":79.3,"type":"quantitative"},"y2":{"datum":90}}},
  {"data":{"name":"cur"},"transform":[{"filter":"datum.p==1"}],"mark":{"type":"text","color":"#9c2b2b","font":"Liberation Serif","fontSize":12,"fontWeight":"bold","baseline":"middle"},"encoding":{"x":{"datum":3452,"type":"quantitative"},"y":{"datum":86.7,"type":"quantitative"},"text":{"field":"t"}}},
  {"data":{"name":"cur"},"transform":[{"filter":"datum.p==1"}],"mark":{"type":"text","color":"black","font":"Liberation Serif","fontSize":12,"fontWeight":"bold","baseline":"middle"},"encoding":{"x":{"datum":3452,"type":"quantitative"},"y":{"datum":82.2,"type":"quantitative"},"text":{"field":"val"}}}]},
 {"width":996,"height":50,"view":{"stroke":null},"data":{"name":"lg"},"layer":[
  {"mark":{"type":"rect","fill":null,"stroke":"black","strokeWidth":1},"encoding":{"x":{"datum":0,"type":"quantitative","scale":{"domain":[0,3600],"nice":false},"axis":null},"x2":{"datum":3600},"y":{"datum":0,"type":"quantitative","scale":{"domain":[0,50],"nice":false},"axis":null},"y2":{"datum":16}}},
  {"mark":{"type":"rule","stroke":"black","strokeWidth":1.5},"encoding":{"x":{"datum":25,"type":"quantitative"},"x2":{"datum":477},"y":{"datum":8,"type":"quantitative"}}},
  {"mark":{"type":"rect","fill":"black"},"encoding":{"x":{"datum":535,"type":"quantitative"},"x2":{"datum":1380},"y":{"datum":1,"type":"quantitative"},"y2":{"datum":15}}},
  {"mark":{"type":"text","color":"white","align":"left","baseline":"middle","font":"Liberation Serif","fontSize":12.5},"encoding":{"x":{"datum":535,"type":"quantitative"},"y":{"datum":8,"type":"quantitative"},"text":{"field":"label"}}}]},
 {"width":996,"height":202,"layer":[
  {"data":{"name":"d2"},"mark":{"type":"line","color":"black","strokeWidth":1.3,"clip":true},"encoding":{
   "x":{"field":"s","type":"quantitative","scale":{"domain":[0,3600],"nice":false,"zero":false},"axis":{"title":null,"tickCount":100,"values":[0,450,900,1800,2700,3600],"labelExpr":"datum.value==450?'h.m.s.':datum.value==0?'07:00:00':datum.value==900?'07:15:00':datum.value==1800?'07:30:00':datum.value==2700?'07:45:00':'08:00:00'","labelFontSize":12.5,"labelPadding":3,"labelOffset":-4,"tickSize":10,"tickColor":"black","tickOpacity":{"condition":{"test":"datum.value==450","value":0},"value":1},"gridColor":"#555555","gridDash":[4,2],"gridWidth":1,"gridOpacity":{"condition":{"test":"datum.value==900||datum.value==1800||datum.value==2700","value":1},"value":0}}},
   "y":{"field":"v","type":"quantitative","scale":{"domain":[20,90],"nice":false,"zero":false},"axis":{"title":null,"tickCount":100,"values":[20,22,24,26,28,30,32,34,36,38,40,42,44,46,48,50,52,54,56,58,60,62,64,66,68,70,72,74,76,78,80,82,84,85,86,88,90],"labelExpr":"datum.value==85?'dB':(datum.value%10==0?(''+datum.value):'')","labelFontSize":14,"labelPadding":1,"minExtent":26,"maxExtent":26,"tickColor":"black","tickSize":{"condition":{"test":"datum.value%10==0","value":10},"value":5},"tickOpacity":{"condition":{"test":"datum.value==85","value":0},"value":1},"gridColor":{"condition":{"test":"datum.value%10==0","value":"black"},"value":"#bdbdbd"},"gridWidth":{"condition":{"test":"datum.value%10==0","value":2},"value":1.2},"gridOpacity":{"condition":{"test":"datum.value==85","value":0},"value":1}}}}},
  {"data":{"name":"cur"},"transform":[{"filter":"datum.p==2"}],"mark":{"type":"rule","color":"black","strokeWidth":1},"encoding":{"x":{"field":"s","type":"quantitative","title":null}}},
  {"data":{"name":"cur"},"transform":[{"filter":"datum.p==2"}],"mark":{"type":"rect","fill":"white","stroke":"black","strokeWidth":1.5},"encoding":{"x":{"datum":3307,"type":"quantitative"},"x2":{"datum":3600},"y":{"datum":79.3,"type":"quantitative"},"y2":{"datum":90}}},
  {"data":{"name":"cur"},"transform":[{"filter":"datum.p==2"}],"mark":{"type":"text","color":"#9c2b2b","font":"Liberation Serif","fontSize":12,"fontWeight":"bold","baseline":"middle"},"encoding":{"x":{"datum":3452,"type":"quantitative"},"y":{"datum":86.7,"type":"quantitative"},"text":{"field":"t"}}},
  {"data":{"name":"cur"},"transform":[{"filter":"datum.p==2"}],"mark":{"type":"text","color":"black","font":"Liberation Serif","fontSize":12,"fontWeight":"bold","baseline":"middle"},"encoding":{"x":{"datum":3452,"type":"quantitative"},"y":{"datum":82.2,"type":"quantitative"},"text":{"field":"val"}}}]},
 {"width":996,"height":50,"view":{"stroke":null},"data":{"name":"lg"},"layer":[
  {"mark":{"type":"rect","fill":null,"stroke":"black","strokeWidth":1},"encoding":{"x":{"datum":0,"type":"quantitative","scale":{"domain":[0,3600],"nice":false},"axis":null},"x2":{"datum":3600},"y":{"datum":0,"type":"quantitative","scale":{"domain":[0,50],"nice":false},"axis":null},"y2":{"datum":16}}},
  {"mark":{"type":"rule","stroke":"black","strokeWidth":1.5},"encoding":{"x":{"datum":25,"type":"quantitative"},"x2":{"datum":477},"y":{"datum":8,"type":"quantitative"}}},
  {"mark":{"type":"rect","fill":"black"},"encoding":{"x":{"datum":535,"type":"quantitative"},"x2":{"datum":1380},"y":{"datum":1,"type":"quantitative"},"y2":{"datum":15}}},
  {"mark":{"type":"text","color":"white","align":"left","baseline":"middle","font":"Liberation Serif","fontSize":12.5},"encoding":{"x":{"datum":535,"type":"quantitative"},"y":{"datum":8,"type":"quantitative"},"text":{"field":"label"}}}]},
 {"width":996,"height":202,"layer":[
  {"data":{"name":"d3"},"mark":{"type":"line","color":"black","strokeWidth":1.3,"clip":true},"encoding":{
   "x":{"field":"s","type":"quantitative","scale":{"domain":[0,3600],"nice":false,"zero":false},"axis":{"title":null,"tickCount":100,"values":[0,450,900,1800,2700,3600],"labelExpr":"datum.value==450?'h.m.s.':datum.value==0?'08:00:00':datum.value==900?'08:15:00':datum.value==1800?'08:30:00':datum.value==2700?'08:45:00':'09:00:00'","labelFontSize":12.5,"labelPadding":3,"labelOffset":-4,"tickSize":10,"tickColor":"black","tickOpacity":{"condition":{"test":"datum.value==450","value":0},"value":1},"gridColor":"#555555","gridDash":[4,2],"gridWidth":1,"gridOpacity":{"condition":{"test":"datum.value==900||datum.value==1800||datum.value==2700","value":1},"value":0}}},
   "y":{"field":"v","type":"quantitative","scale":{"domain":[20,90],"nice":false,"zero":false},"axis":{"title":null,"tickCount":100,"values":[20,22,24,26,28,30,32,34,36,38,40,42,44,46,48,50,52,54,56,58,60,62,64,66,68,70,72,74,76,78,80,82,84,85,86,88,90],"labelExpr":"datum.value==85?'dB':(datum.value%10==0?(''+datum.value):'')","labelFontSize":14,"labelPadding":1,"minExtent":26,"maxExtent":26,"tickColor":"black","tickSize":{"condition":{"test":"datum.value%10==0","value":10},"value":5},"tickOpacity":{"condition":{"test":"datum.value==85","value":0},"value":1},"gridColor":{"condition":{"test":"datum.value%10==0","value":"black"},"value":"#bdbdbd"},"gridWidth":{"condition":{"test":"datum.value%10==0","value":2},"value":1.2},"gridOpacity":{"condition":{"test":"datum.value==85","value":0},"value":1}}}}},
  {"data":{"name":"cur"},"transform":[{"filter":"datum.p==3"}],"mark":{"type":"rule","color":"black","strokeWidth":1},"encoding":{"x":{"field":"s","type":"quantitative","title":null}}},
  {"data":{"name":"cur"},"transform":[{"filter":"datum.p==3"}],"mark":{"type":"rect","fill":"white","stroke":"black","strokeWidth":1.5},"encoding":{"x":{"datum":3307,"type":"quantitative"},"x2":{"datum":3600},"y":{"datum":79.3,"type":"quantitative"},"y2":{"datum":90}}},
  {"data":{"name":"cur"},"transform":[{"filter":"datum.p==3"}],"mark":{"type":"text","color":"#9c2b2b","font":"Liberation Serif","fontSize":12,"fontWeight":"bold","baseline":"middle"},"encoding":{"x":{"datum":3452,"type":"quantitative"},"y":{"datum":86.7,"type":"quantitative"},"text":{"field":"t"}}},
  {"data":{"name":"cur"},"transform":[{"filter":"datum.p==3"}],"mark":{"type":"text","color":"black","font":"Liberation Serif","fontSize":12,"fontWeight":"bold","baseline":"middle"},"encoding":{"x":{"datum":3452,"type":"quantitative"},"y":{"datum":82.2,"type":"quantitative"},"text":{"field":"val"}}}]},
 {"width":996,"height":50,"view":{"stroke":null},"data":{"name":"lg"},"layer":[
  {"mark":{"type":"rect","fill":null,"stroke":"black","strokeWidth":1},"encoding":{"x":{"datum":0,"type":"quantitative","scale":{"domain":[0,3600],"nice":false},"axis":null},"x2":{"datum":3600},"y":{"datum":0,"type":"quantitative","scale":{"domain":[0,50],"nice":false},"axis":null},"y2":{"datum":16}}},
  {"mark":{"type":"rule","stroke":"black","strokeWidth":1.5},"encoding":{"x":{"datum":25,"type":"quantitative"},"x2":{"datum":477},"y":{"datum":8,"type":"quantitative"}}},
  {"mark":{"type":"rect","fill":"black"},"encoding":{"x":{"datum":535,"type":"quantitative"},"x2":{"datum":1380},"y":{"datum":1,"type":"quantitative"},"y2":{"datum":15}}},
  {"mark":{"type":"text","color":"white","align":"left","baseline":"middle","font":"Liberation Serif","fontSize":12.5},"encoding":{"x":{"datum":535,"type":"quantitative"},"y":{"datum":8,"type":"quantitative"},"text":{"field":"label"}}}]},
 {"width":996,"height":202,"layer":[
  {"data":{"name":"d4"},"mark":{"type":"line","color":"black","strokeWidth":1.3,"clip":true},"encoding":{
   "x":{"field":"s","type":"quantitative","scale":{"domain":[0,3600],"nice":false,"zero":false},"axis":{"title":null,"tickCount":100,"values":[0,450,900,1800,2700,3600],"labelExpr":"datum.value==450?'h.m.s.':datum.value==0?'09:00:00':datum.value==900?'09:15:00':datum.value==1800?'09:30:00':datum.value==2700?'09:45:00':'10:00:00'","labelFontSize":12.5,"labelPadding":3,"labelOffset":-4,"tickSize":10,"tickColor":"black","tickOpacity":{"condition":{"test":"datum.value==450","value":0},"value":1},"gridColor":"#555555","gridDash":[4,2],"gridWidth":1,"gridOpacity":{"condition":{"test":"datum.value==900||datum.value==1800||datum.value==2700","value":1},"value":0}}},
   "y":{"field":"v","type":"quantitative","scale":{"domain":[20,90],"nice":false,"zero":false},"axis":{"title":null,"tickCount":100,"values":[20,22,24,26,28,30,32,34,36,38,40,42,44,46,48,50,52,54,56,58,60,62,64,66,68,70,72,74,76,78,80,82,84,85,86,88,90],"labelExpr":"datum.value==85?'dB':(datum.value%10==0?(''+datum.value):'')","labelFontSize":14,"labelPadding":1,"minExtent":26,"maxExtent":26,"tickColor":"black","tickSize":{"condition":{"test":"datum.value%10==0","value":10},"value":5},"tickOpacity":{"condition":{"test":"datum.value==85","value":0},"value":1},"gridColor":{"condition":{"test":"datum.value%10==0","value":"black"},"value":"#bdbdbd"},"gridWidth":{"condition":{"test":"datum.value%10==0","value":2},"value":1.2},"gridOpacity":{"condition":{"test":"datum.value==85","value":0},"value":1}}}}},
  {"data":{"name":"cur"},"transform":[{"filter":"datum.p==4"}],"mark":{"type":"rule","color":"black","strokeWidth":1},"encoding":{"x":{"field":"s","type":"quantitative","title":null}}},
  {"data":{"name":"cur"},"transform":[{"filter":"datum.p==4"}],"mark":{"type":"rect","fill":"white","stroke":"black","strokeWidth":1.5},"encoding":{"x":{"datum":3307,"type":"quantitative"},"x2":{"datum":3600},"y":{"datum":79.3,"type":"quantitative"},"y2":{"datum":90}}},
  {"data":{"name":"cur"},"transform":[{"filter":"datum.p==4"}],"mark":{"type":"text","color":"#9c2b2b","font":"Liberation Serif","fontSize":12,"fontWeight":"bold","baseline":"middle"},"encoding":{"x":{"datum":3452,"type":"quantitative"},"y":{"datum":86.7,"type":"quantitative"},"text":{"field":"t"}}},
  {"data":{"name":"cur"},"transform":[{"filter":"datum.p==4"}],"mark":{"type":"text","color":"black","font":"Liberation Serif","fontSize":12,"fontWeight":"bold","baseline":"middle"},"encoding":{"x":{"datum":3452,"type":"quantitative"},"y":{"datum":82.2,"type":"quantitative"},"text":{"field":"val"}}}]},
 {"width":996,"height":50,"view":{"stroke":null},"data":{"name":"lg"},"layer":[
  {"mark":{"type":"rect","fill":null,"stroke":"black","strokeWidth":1},"encoding":{"x":{"datum":0,"type":"quantitative","scale":{"domain":[0,3600],"nice":false},"axis":null},"x2":{"datum":3600},"y":{"datum":0,"type":"quantitative","scale":{"domain":[0,50],"nice":false},"axis":null},"y2":{"datum":16}}},
  {"mark":{"type":"rule","stroke":"black","strokeWidth":1.5},"encoding":{"x":{"datum":25,"type":"quantitative"},"x2":{"datum":477},"y":{"datum":8,"type":"quantitative"}}},
  {"mark":{"type":"rect","fill":"black"},"encoding":{"x":{"datum":535,"type":"quantitative"},"x2":{"datum":1380},"y":{"datum":1,"type":"quantitative"},"y2":{"datum":15}}},
  {"mark":{"type":"text","color":"white","align":"left","baseline":"middle","font":"Liberation Serif","fontSize":12.5},"encoding":{"x":{"datum":535,"type":"quantitative"},"y":{"datum":8,"type":"quantitative"},"text":{"field":"label"}}}]},
 {"width":996,"height":202,"layer":[
  {"data":{"name":"d5"},"mark":{"type":"line","color":"black","strokeWidth":1.3,"clip":true},"encoding":{
   "x":{"field":"s","type":"quantitative","scale":{"domain":[0,3600],"nice":false,"zero":false},"axis":{"title":null,"tickCount":100,"values":[0,450,900,1800,2700,3600],"labelExpr":"datum.value==450?'h.m.s.':datum.value==0?'10:00:00':datum.value==900?'10:15:00':datum.value==1800?'10:30:00':datum.value==2700?'10:45:00':'11:00:00'","labelFontSize":12.5,"labelPadding":3,"labelOffset":-4,"tickSize":10,"tickColor":"black","tickOpacity":{"condition":{"test":"datum.value==450","value":0},"value":1},"gridColor":"#555555","gridDash":[4,2],"gridWidth":1,"gridOpacity":{"condition":{"test":"datum.value==900||datum.value==1800||datum.value==2700","value":1},"value":0}}},
   "y":{"field":"v","type":"quantitative","scale":{"domain":[20,90],"nice":false,"zero":false},"axis":{"title":null,"tickCount":100,"values":[20,22,24,26,28,30,32,34,36,38,40,42,44,46,48,50,52,54,56,58,60,62,64,66,68,70,72,74,76,78,80,82,84,85,86,88,90],"labelExpr":"datum.value==85?'dB':(datum.value%10==0?(''+datum.value):'')","labelFontSize":14,"labelPadding":1,"minExtent":26,"maxExtent":26,"tickColor":"black","tickSize":{"condition":{"test":"datum.value%10==0","value":10},"value":5},"tickOpacity":{"condition":{"test":"datum.value==85","value":0},"value":1},"gridColor":{"condition":{"test":"datum.value%10==0","value":"black"},"value":"#bdbdbd"},"gridWidth":{"condition":{"test":"datum.value%10==0","value":2},"value":1.2},"gridOpacity":{"condition":{"test":"datum.value==85","value":0},"value":1}}}}},
  {"data":{"name":"cur"},"transform":[{"filter":"datum.p==5"}],"mark":{"type":"rule","color":"black","strokeWidth":1},"encoding":{"x":{"field":"s","type":"quantitative","title":null}}},
  {"data":{"name":"cur"},"transform":[{"filter":"datum.p==5"}],"mark":{"type":"rect","fill":"white","stroke":"black","strokeWidth":1.5},"encoding":{"x":{"datum":3307,"type":"quantitative"},"x2":{"datum":3600},"y":{"datum":79.3,"type":"quantitative"},"y2":{"datum":90}}},
  {"data":{"name":"cur"},"transform":[{"filter":"datum.p==5"}],"mark":{"type":"text","color":"#9c2b2b","font":"Liberation Serif","fontSize":12,"fontWeight":"bold","baseline":"middle"},"encoding":{"x":{"datum":3452,"type":"quantitative"},"y":{"datum":86.7,"type":"quantitative"},"text":{"field":"t"}}},
  {"data":{"name":"cur"},"transform":[{"filter":"datum.p==5"}],"mark":{"type":"text","color":"black","font":"Liberation Serif","fontSize":12,"fontWeight":"bold","baseline":"middle"},"encoding":{"x":{"datum":3452,"type":"quantitative"},"y":{"datum":82.2,"type":"quantitative"},"text":{"field":"val"}}}]}
]
}
